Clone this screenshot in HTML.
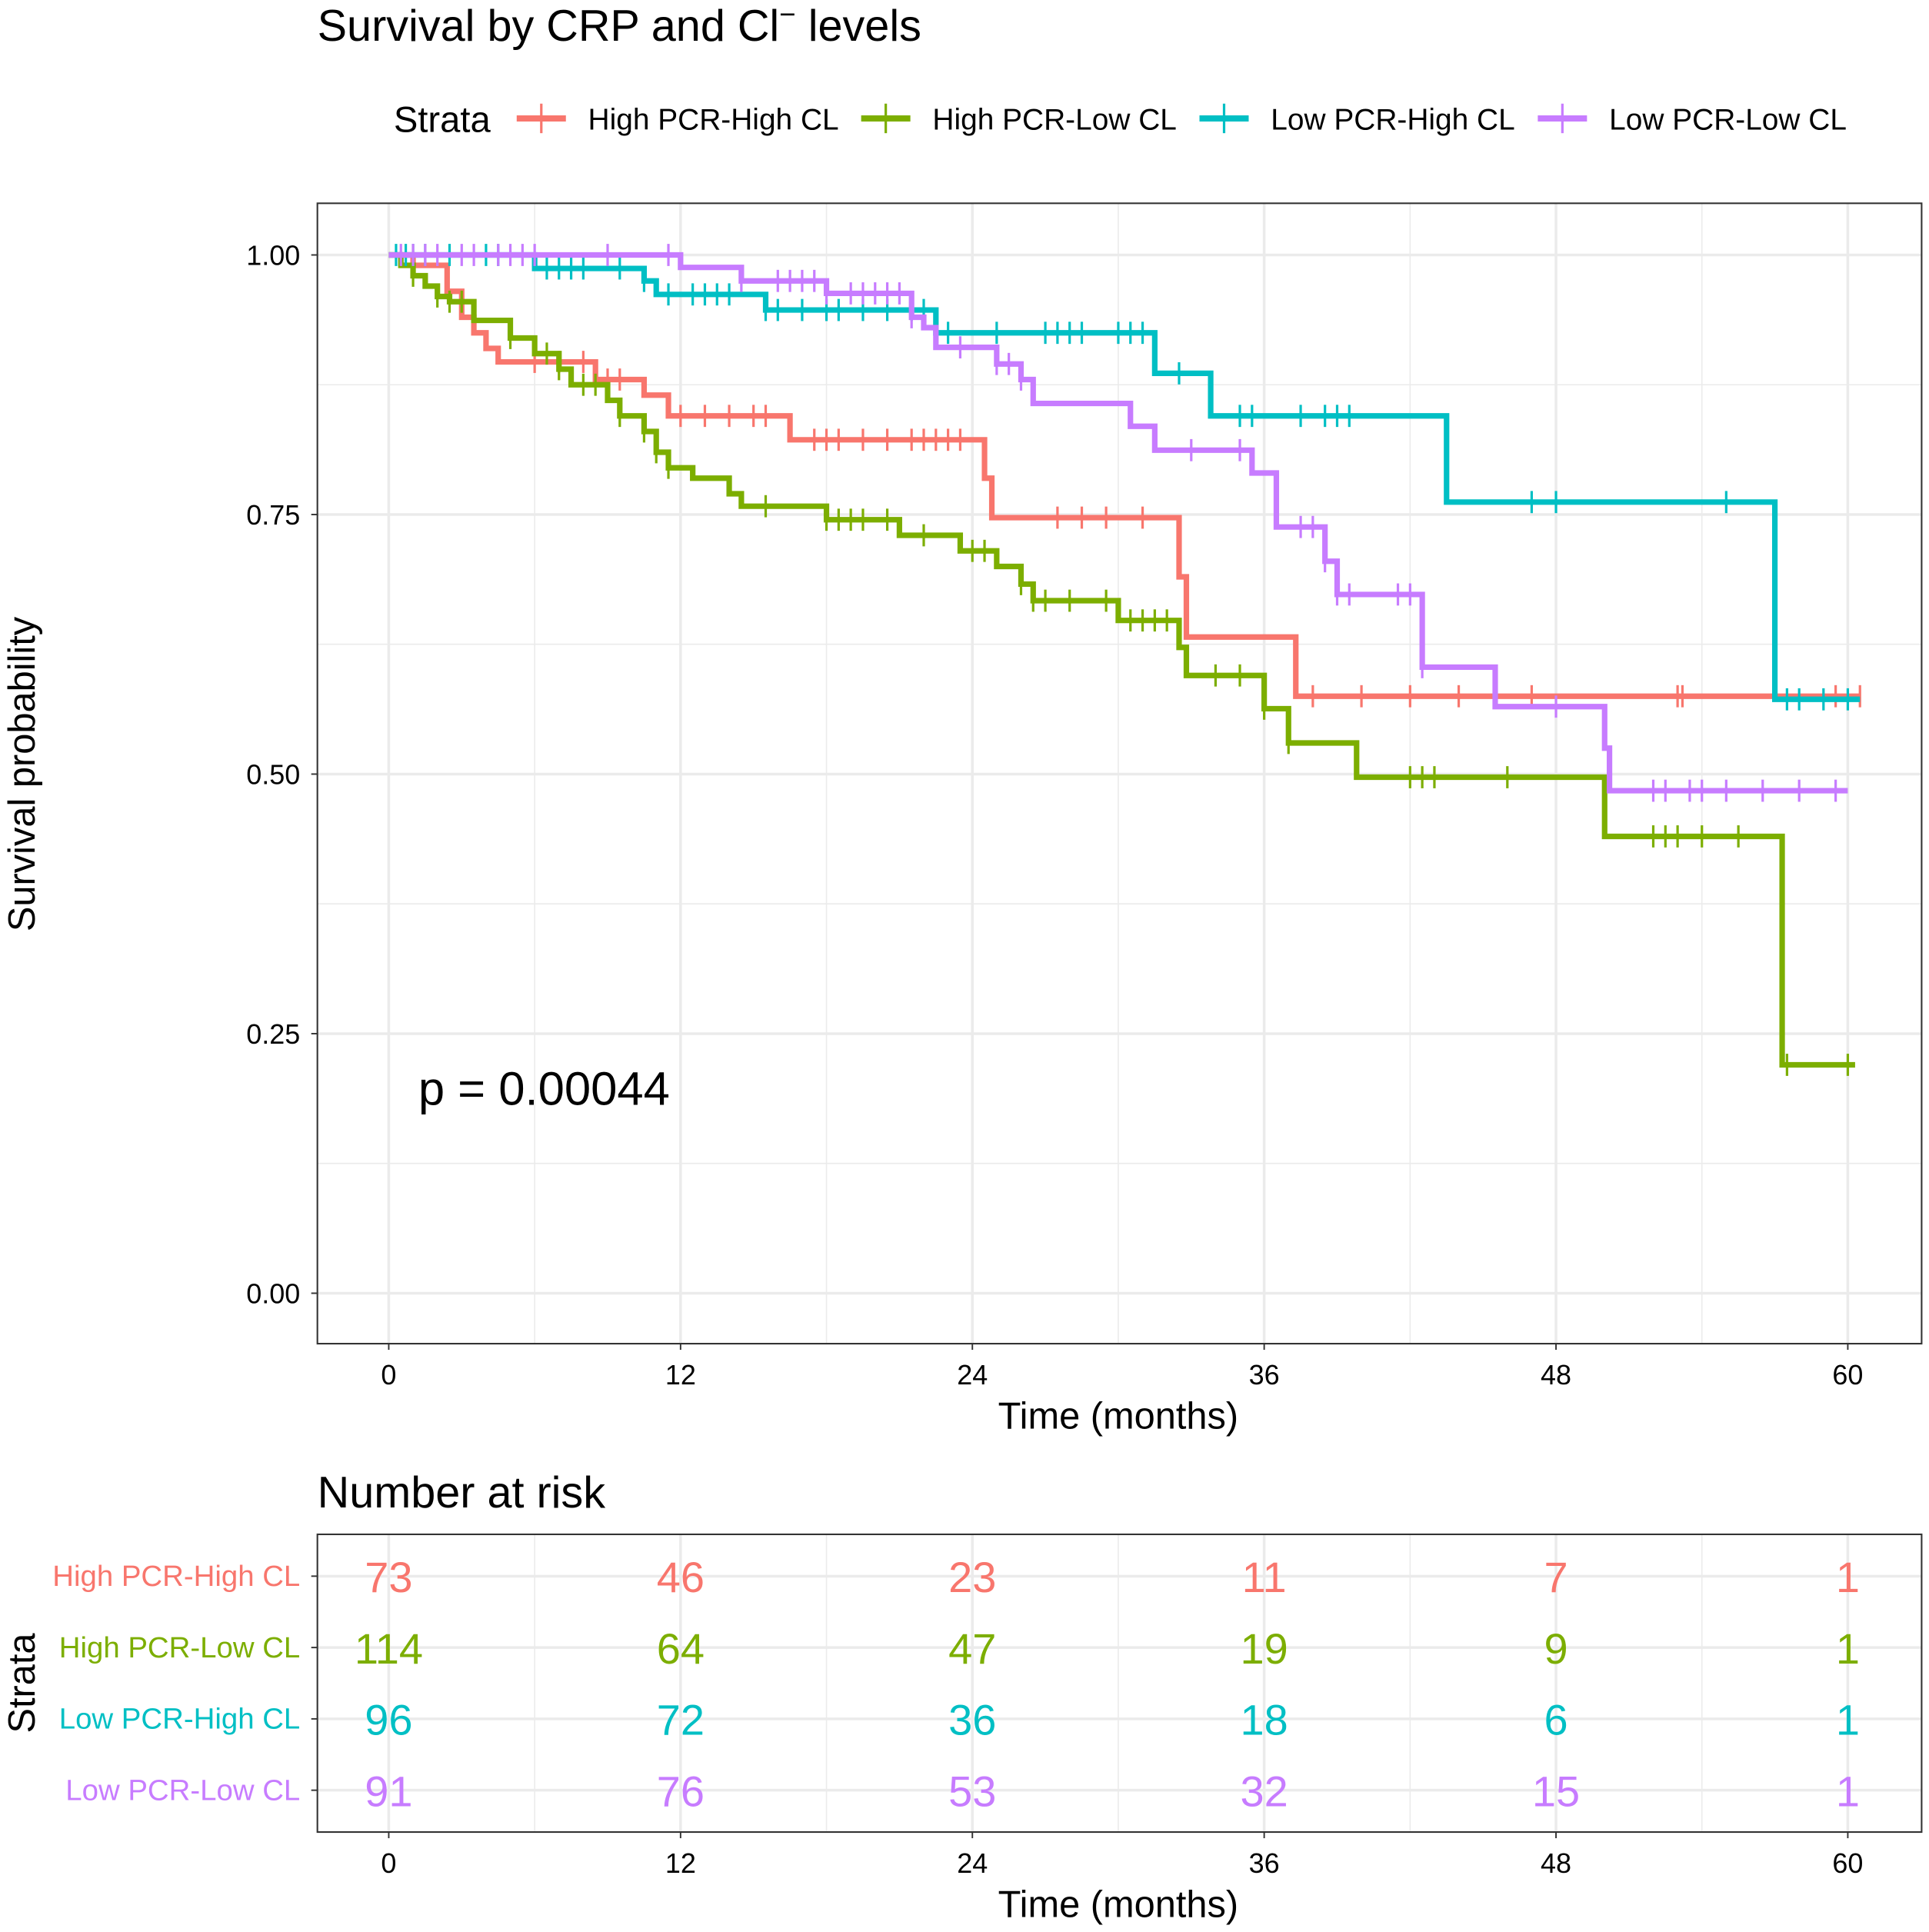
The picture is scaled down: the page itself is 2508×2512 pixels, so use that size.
<!DOCTYPE html>
<html><head><meta charset="utf-8">
<style>
html,body{margin:0;padding:0;background:#fff;}
svg{display:block;font-family:"Liberation Sans",Arial,sans-serif;}
</style></head>
<body>
<svg id="chart" width="2508" height="2512" viewBox="0 0 1568 1570" xmlns="http://www.w3.org/2000/svg">
<text x="258" y="33" font-size="36">Survival by CRP and Cl<tspan font-size="23" dy="-14">−</tspan><tspan font-size="36" dy="14"> levels</tspan></text>
<g id="legend"></g>
<g id="plot"></g>
<g id="risk"></g>
</svg>
<script>
const strata = ["High PCR-High CL","High PCR-Low CL","Low PCR-High CL","Low PCR-Low CL"];
const colors = ["#F8766D","#7CAE00","#00BFC4","#C77CFF"];
const xTicks = [0,12,24,36,48,60];
const yTicks = [0,0.25,0.5,0.75,1.0];
const yTickLabels = ["0.00","0.25","0.50","0.75","1.00"];
const redTimes = [0,1,2.4,3,3.5,4,4.5,8.5,10.5,11.5,16.5,24.5,24.8,32.5,32.8,37.3,60.5];
const redSurv  = [1,0.99,0.965,0.94,0.925,0.91,0.897,0.88,0.865,0.845,0.822,0.785,0.747,0.69,0.632,0.575,0.575];
const redCens = [6,7,8,9,9.5,12,13,14,15,15.5,17.5,18,18.5,19.5,20.5,21.5,22,22.5,23,23.5,27.5,28.5,29.5,31,38,40,42,44,47,53,53.2,59.5,60.5];
const greenTimes = [0,0.5,1,1.5,2,2.5,3.5,5,6,7,7.5,9,9.5,10.5,11,11.5,12.5,14,14.5,18,21,23.5,25,26,26.5,30,32.5,32.8,36,37,39.8,50,57.3,60.3];
const greenSurv  = [1,0.99,0.98,0.97,0.96,0.955,0.937,0.92,0.905,0.89,0.875,0.86,0.845,0.83,0.81,0.795,0.785,0.77,0.758,0.745,0.73,0.715,0.70,0.683,0.667,0.648,0.622,0.595,0.563,0.53,0.497,0.44,0.22,0.22];
const greenCens = [1,2,2.5,3,5,6.5,7,8,8.5,9.5,10.5,11,11.5,15.5,18,18.5,19,19.5,20.5,22,24,24.5,26,26.5,27,28,29.5,30.5,31,31.5,32,34,35,36,37,42,42.5,43,46,52,52.5,53,54,55.5,57.5,60];
const cyanTimes = [0,6,10.5,11,15.5,22.5,31.5,33.8,43.5,57,60.5];
const cyanSurv  = [1,0.987,0.975,0.962,0.947,0.925,0.886,0.845,0.762,0.572,0.572];
const cyanCens = [0.3,0.7,1,1.5,2.5,4,4.5,6.5,7,7.5,8,9.5,10.5,11.5,12.5,13,13.5,14,15.5,16,17,18,18.5,19.5,20.5,21.5,22,23,25,27,27.5,28,28.5,30,30.5,31,32.5,35,35.5,37.5,38.5,39,39.5,47,48,55,57.5,58,59,60];
const purpleTimes = [0,12,14.5,18,21.5,22,22.5,25,26,26.5,30.5,31.5,35.5,36.5,38.5,39,42.5,45.5,50,50.2,60];
const purpleSurv  = [1,0.988,0.975,0.963,0.94,0.93,0.911,0.895,0.88,0.857,0.835,0.812,0.79,0.738,0.705,0.673,0.603,0.565,0.525,0.484,0.484];
const purpleCens = [0.5,1,1.5,2,3,3.5,4.5,5,5.5,6,9,11.5,14.5,16,16.5,17,17.5,18,19,19.5,20,20.5,21,21.5,23.5,25,25.5,26,33,35,37.5,38,38.5,39,39.5,41.5,42,42.5,48,52,52.5,53.5,54,55,56.5,58,59.5];
const riskCounts = [[73,46,23,11,7,1],[114,64,47,19,9,1],[96,72,36,18,6,1],[91,76,53,32,15,1]];
const pValueText = "p = 0.00044";

const NS="http://www.w3.org/2000/svg";
function mk(tag,attrs,parent,text){const e=document.createElementNS(NS,tag);for(const k in attrs)e.setAttribute(k,attrs[k]);if(text!==undefined)e.textContent=text;parent.appendChild(e);return e;}
const x=t=>316+t*(1502-316)/60;
const y=s=>1051-s*(1051-207);
const plot=document.getElementById('plot');
const PL=258,PR=1562,PT=165,PB=1092;
for(let v=0.125;v<1.1;v+=0.25){const g=mk('line',{x1:PL,x2:PR,y1:y(v),y2:y(v),stroke:'#ebebeb','stroke-width':1},plot);}
for(let t=6;t<=60;t+=12){const g=mk('line',{x1:x(t),x2:x(t),y1:PT,y2:PB,stroke:'#ebebeb','stroke-width':1},plot);}
yTicks.forEach((v,i)=>{const g=mk('line',{x1:PL,x2:PR,y1:y(v),y2:y(v),stroke:'#ebebeb','stroke-width':2.2},plot);
 const tk=mk('line',{x1:PL-5,x2:PL,y1:y(v),y2:y(v),stroke:'#333','stroke-width':1.2},plot);
 const l=mk('text',{x:PL-14,y:y(v)+8,'font-size':22.5,'text-anchor':'end',fill:'#000'},plot,yTickLabels[i]);});
xTicks.forEach(t=>{const g=mk('line',{x1:x(t),x2:x(t),y1:PT,y2:PB,stroke:'#ebebeb','stroke-width':2.2},plot);
 const tk=mk('line',{x1:x(t),x2:x(t),y1:PB,y2:PB+5,stroke:'#333','stroke-width':1.2},plot);
 const l=mk('text',{x:x(t),y:PB+33,'font-size':22.5,'text-anchor':'middle'},plot,t);});
const series=[[redTimes,redSurv,redCens],[greenTimes,greenSurv,greenCens],[cyanTimes,cyanSurv,cyanCens],[purpleTimes,purpleSurv,purpleCens]];
function survAt(T,S,t){let s=S[0];for(let i=0;i<T.length;i++){if(T[i]<=t)s=S[i];}return s;}
series.forEach((sr,k)=>{const [T,S,C]=sr;let d=`M${x(T[0])},${y(S[0])}`;for(let i=1;i<T.length;i++){d+=` H${x(T[i])} V${y(S[i])}`;}
 const p=mk('path',{d:d,fill:'none',stroke:colors[k],'stroke-width':4.5,'stroke-linejoin':'miter'},plot);
 C.forEach(t=>{const s=survAt(T,S,t);const c=mk('line',{x1:x(t),x2:x(t),y1:y(s)-9,y2:y(s)+9,stroke:colors[k],'stroke-width':2},plot);});});
const border=mk('rect',{x:PL,y:PT,width:PR-PL,height:PB-PT,fill:'none',stroke:'#333','stroke-width':1.3},plot);
let e=mk('text',{x:340,y:898,'font-size':38.5},plot,pValueText);
e=mk('text',{x:909,y:1161,'font-size':30.5,'text-anchor':'middle'},plot,'Time (months)');
e=mk('text',{x:0,y:0,'font-size':30.5,'text-anchor':'middle',transform:'translate(28,629) rotate(-90)'},plot,'Survival probability');
const leg=document.getElementById('legend');
e=mk('text',{x:320,y:107,'font-size':29.5},leg,'Strata');
const lx=[420,700,975,1250];
strata.forEach((n,k)=>{const g=mk('g',{},leg);
 mk('line',{x1:lx[k],x2:lx[k]+40,y1:96,y2:96,stroke:colors[k],'stroke-width':5},g);
 mk('line',{x1:lx[k]+20,x2:lx[k]+20,y1:84,y2:108,stroke:colors[k],'stroke-width':2},g);
 mk('text',{x:lx[k]+58,y:105,'font-size':24.3},g,n);});
const risk=document.getElementById('risk');
const RT=1247,RB=1489;const rowY=[1281,1339,1397,1455];
e=mk('text',{x:258,y:1225,'font-size':36},risk,'Number at risk');
for(let t=6;t<=60;t+=12){mk('line',{x1:x(t),x2:x(t),y1:RT,y2:RB,stroke:'#ebebeb','stroke-width':1},risk);}
xTicks.forEach(t=>{mk('line',{x1:x(t),x2:x(t),y1:RT,y2:RB,stroke:'#ebebeb','stroke-width':2.2},risk);
 mk('line',{x1:x(t),x2:x(t),y1:RB,y2:RB+5,stroke:'#333','stroke-width':1.2},risk);
 e=mk('text',{x:x(t),y:RB+33,'font-size':22.5,'text-anchor':'middle'},risk,t);});
strata.forEach((n,k)=>{mk('line',{x1:PL,x2:PR,y1:rowY[k],y2:rowY[k],stroke:'#ebebeb','stroke-width':2.2},risk);
 mk('line',{x1:PL-5,x2:PL,y1:rowY[k],y2:rowY[k],stroke:'#333','stroke-width':1.2},risk);
 e=mk('text',{x:PL-14,y:rowY[k]+8,'font-size':24,'text-anchor':'end',fill:colors[k]},risk,n);
 riskCounts[k].forEach((c,j)=>{e=mk('text',{x:x(xTicks[j]),y:rowY[k]+13,'font-size':35,'text-anchor':'middle',fill:colors[k]},risk,c);});});
e=mk('rect',{x:PL,y:RT,width:PR-PL,height:RB-RT,fill:'none',stroke:'#333','stroke-width':1.3},risk);
e=mk('text',{x:909,y:1558,'font-size':30.5,'text-anchor':'middle'},risk,'Time (months)');
e=mk('text',{x:0,y:0,'font-size':30.5,'text-anchor':'middle',transform:'translate(28,1368) rotate(-90)'},risk,'Strata');
</script>
</body></html>
